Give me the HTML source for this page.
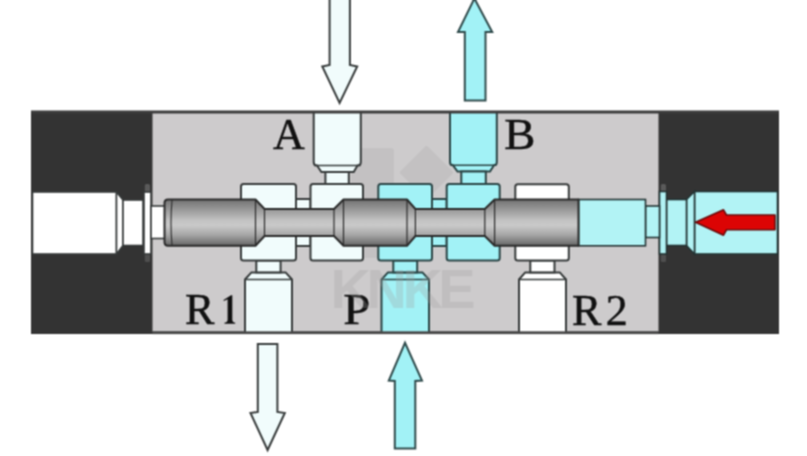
<!DOCTYPE html>
<html><head><meta charset="utf-8">
<style>
html,body{margin:0;padding:0;background:#fff;width:807px;height:456px;overflow:hidden}
svg{display:block}
</style></head>
<body>
<svg width="807" height="456" viewBox="0 0 807 456">
<defs>
<filter id="soft" filterUnits="userSpaceOnUse" x="0" y="0" width="807" height="456" color-interpolation-filters="sRGB"><feConvolveMatrix order="3" kernelMatrix="1 2 1 2 4 2 1 2 1" divisor="16" edgeMode="duplicate"/></filter>
<linearGradient id="spool" x1="0" y1="0" x2="0" y2="1">
<stop offset="0" stop-color="#727272"/>
<stop offset="0.15" stop-color="#8c8c8c"/>
<stop offset="0.45" stop-color="#c2c2c2"/>
<stop offset="0.56" stop-color="#c9c9c9"/>
<stop offset="0.75" stop-color="#a9a9a9"/>
<stop offset="1" stop-color="#666666"/>
</linearGradient>
<linearGradient id="shaft" x1="0" y1="0" x2="0" y2="1">
<stop offset="0" stop-color="#6e6e6e"/>
<stop offset="0.55" stop-color="#c8c8c8"/>
<stop offset="1" stop-color="#606060"/>
</linearGradient>
</defs>
<g filter="url(#soft)">
<rect x="0" y="0" width="807" height="456" fill="#fff"/>

<!-- arrows outside -->
<g stroke="#383c3c" stroke-width="2" stroke-linejoin="miter">
<path d="M329.6,-2 L349.9,-2 L349.9,65 L357.2,66.5 L339.6,103 L322.3,66.5 L329.6,65 Z" fill="#f1fcfc"/>
<path d="M464.8,100.5 L485.5,100.5 L485.5,32 L492.2,32 L474.4,-1.5 L458,32 L464.8,32 Z" fill="#a2f2f6" stroke="#2f4a4b"/>
<path d="M257.8,344 L277.4,344 L277.4,412 L284.8,413 L267.6,450 L250.5,413 L257.8,412 Z" fill="#f1fcfc"/>
<path d="M394.8,448.5 L415.3,448.5 L415.3,381 L422,380.5 L405,342.8 L388.8,380.5 L394.8,381 Z" fill="#a2f2f6" stroke="#2f4a4b"/>
</g>

<!-- body -->
<rect x="31" y="111" width="748" height="223" fill="#333"/>
<rect x="152.5" y="113" width="506" height="218.5" fill="#cdcbcc"/>

<!-- watermark -->
<g opacity="0.045" fill="#000">
<rect x="351" y="148" width="43" height="110" rx="3"/>
<path d="M426.5,148 L451,172.5 L426.5,197 L402,172.5 Z" stroke="#000" stroke-width="4" stroke-linejoin="round"/>
</g>

<!-- left end cap -->
<g stroke="#363a3a" stroke-width="1.6">
<rect x="144.8" y="184" width="5.2" height="8" rx="1.5" fill="#5a5a5a" stroke="none"/>
<rect x="144.8" y="254" width="5.2" height="8" rx="1.5" fill="#4f4f4f" stroke="none"/>
<rect x="32.5" y="192" width="84" height="62" fill="#fff"/>
<path d="M116.5,192 L123,200 L123,245.5 L116.5,254 Z" fill="#fff"/>
<rect x="123" y="200" width="20" height="45.5" fill="#fff"/>
<rect x="144" y="192" width="7" height="62" fill="#fff"/>
<rect x="151" y="206" width="14" height="32.5" fill="#fff"/>
</g>

<!-- right end cap -->
<g stroke="#223333" stroke-width="1.6">
<rect x="660.8" y="184" width="5.2" height="8" rx="1.5" fill="#5a5a5a" stroke="none"/>
<rect x="660.8" y="254" width="5.2" height="8" rx="1.5" fill="#4f4f4f" stroke="none"/>
<rect x="694.5" y="191.5" width="83" height="62.5" fill="#b2f3f5"/>
<path d="M694.5,191.5 L686.5,199.5 L686.5,245.5 L694.5,254 Z" fill="#b2f3f5"/>
<rect x="666.5" y="199.5" width="20" height="46" fill="#b2f3f5"/>
<rect x="659.5" y="191.5" width="7" height="62.5" fill="#b2f3f5"/>
<rect x="645.5" y="206" width="14" height="31.5" fill="#b2f3f5"/>
<rect x="578.5" y="199.5" width="67" height="46.3" fill="#b2f3f5"/>
</g>
<!-- red arrow -->
<path d="M695.5,222.3 L723.5,209.8 L726.5,215 L775,215 L775,229.8 L726.5,229.8 L723.5,235.2 Z" fill="#dc0404" stroke="#6a0a0a" stroke-width="1.6" stroke-linejoin="round"/>

<!-- ports -->
<g stroke="#363a3a" stroke-width="2">
<!-- A -->
<path d="M313.7,111 L313.7,162 Q313.7,165.5 317,165.5 L321.4,172 L353.7,172 L357.5,165.5 Q360.8,165.5 360.8,162 L360.8,111" fill="#f1fcfc"/>
<rect x="325.4" y="172" width="23.4" height="12" fill="#f1fcfc"/>
<!-- B -->
<path d="M450,111 L450,162 Q450,165.3 453,165.3 L457.5,171.5 L490,171.5 L494,165.3 Q496.8,165.3 496.8,162 L496.8,111" fill="#a2f2f6" stroke="#2a4445"/>
<rect x="461.3" y="171.5" width="24.5" height="12.5" fill="#a2f2f6" stroke="#2a4445"/>
<!-- R1 -->
<path d="M245,333 L245,279.5 L251.4,272.4 L285.6,272.4 L292,279.5 L292,333" fill="#f1fcfc"/>
<rect x="256.3" y="260.5" width="24.3" height="11.9" fill="#f1fcfc"/>
<!-- P -->
<path d="M381.5,333 L381.5,279.5 L388,272.4 L422.4,272.4 L429,279.5 L429,333" fill="#a2f2f6" stroke="#2a4445"/>
<rect x="393.3" y="260.5" width="23.9" height="11.9" fill="#a2f2f6" stroke="#2a4445"/>
<!-- R2 -->
<path d="M519,333 L519,279.5 L525.2,272.4 L559.8,272.4 L566,279.5 L566,333" fill="#fff"/>
<rect x="530.3" y="260.5" width="24.2" height="11.9" fill="#fff"/>
</g>

<rect x="31" y="110.5" width="748" height="3" fill="#3c3c3c"/>
<rect x="152.5" y="331.3" width="506" height="2.8" fill="#4a4a4a"/>
<g stroke="#363a3a" stroke-width="1.6">
<line x1="314" y1="165.5" x2="360.5" y2="165.5"/>
<line x1="450.5" y1="165.3" x2="496.3" y2="165.3" stroke="#2a4445"/>
<line x1="245.5" y1="279.5" x2="291.5" y2="279.5"/>
<line x1="382" y1="279.5" x2="428.5" y2="279.5" stroke="#2a4445"/>
<line x1="519.5" y1="279.5" x2="565.5" y2="279.5"/>
</g>
<!-- housing blocks -->
<g stroke="#363a3a" stroke-width="2">
<rect rx="2.5" x="241" y="184" width="55" height="38" fill="#f1fcfc"/>
<rect x="296" y="199" width="14.5" height="23" fill="#f1fcfc"/>
<rect rx="2.5" x="310.5" y="184" width="52.5" height="38" fill="#f1fcfc"/>
<rect rx="2.5" x="241" y="222" width="55" height="38.5" fill="#f1fcfc"/>
<rect x="296" y="222" width="14.5" height="24" fill="#f1fcfc"/>
<rect rx="2.5" x="310.5" y="222" width="52.5" height="38.5" fill="#f1fcfc"/>
<rect rx="2.5" x="515.3" y="184.3" width="53.5" height="38" fill="#fff"/>
<rect rx="2.5" x="515.3" y="222" width="53.5" height="38.5" fill="#fff"/>
</g>
<g stroke="#2a4445" stroke-width="2">
<rect rx="2.5" x="378.3" y="184" width="53.7" height="38" fill="#a2f2f6"/>
<rect x="432" y="199" width="14.7" height="23" fill="#a2f2f6"/>
<rect rx="2.5" x="446.7" y="184" width="53" height="38" fill="#a2f2f6"/>
<rect rx="2.5" x="378.3" y="222" width="53.7" height="38.5" fill="#a2f2f6"/>
<rect x="432" y="222" width="14.7" height="24" fill="#a2f2f6"/>
<rect rx="2.5" x="446.7" y="222" width="53" height="38.5" fill="#a2f2f6"/>
</g>


<!-- spool -->
<g stroke="#2a2a2a" stroke-width="2" stroke-linejoin="round">
<path d="M168,199.5 L255.5,199.5 L264.5,209 L334,209 L343.5,199.5 L407,199.5 L415.4,209 L484.8,209 L494.6,199.5 L578.5,199.5 L578.5,245.8 L494.6,245.8 L484.8,236 L415.4,236 L407,245.8 L343.5,245.8 L334,236 L264.5,236 L255.5,245.8 L168,245.8 Q164.5,245.8 164.5,242 L164.5,203 Q164.5,199.5 168,199.5 Z" fill="url(#spool)"/>
<path d="M172,200 Q170,222.6 172,245.3" fill="none" stroke-width="1.1"/>
<line x1="255.5" y1="199.5" x2="255.5" y2="245.8" stroke-width="1.2"/>
<line x1="343.5" y1="199.5" x2="343.5" y2="245.8" stroke-width="1.2"/>
<line x1="407" y1="199.5" x2="407" y2="245.8" stroke-width="1.2"/>
<line x1="494.6" y1="199.5" x2="494.6" y2="245.8" stroke-width="1.2"/>
<line x1="264.5" y1="209" x2="264.5" y2="236" stroke-width="1.2"/>
<line x1="334" y1="209" x2="334" y2="236" stroke-width="1.2"/>
<line x1="415.4" y1="209" x2="415.4" y2="236" stroke-width="1.2"/>
<line x1="484.8" y1="209" x2="484.8" y2="236" stroke-width="1.2"/>
</g>

<!-- labels -->
<g font-family="'Liberation Serif', serif" font-size="44" fill="#111" stroke="#111" stroke-width="0.5">
<text x="273" y="149">A</text>
<text transform="translate(504.3,149) scale(1.06,1)" x="0" y="0">B</text>
<text x="185" y="324">R</text>
<path d="M227.6,299.2 L223.8,301 L223.5,300.1 L231,295.2 L232.3,295.2 L232.3,320.3 Q232.5,322.5 235.2,322.7 L235.2,323.8 L224.5,323.8 L224.5,322.7 Q227.4,322.5 227.6,320.3 Z" stroke="none"/>
<text transform="translate(343.3,324) scale(1.1,1)" x="0" y="0">P</text>
<text x="572" y="324.5">R<tspan dx="4.5">2</tspan></text>
</g>

<!-- watermark text -->
<text x="330.5" y="307.5" font-family="'Liberation Sans', sans-serif" font-weight="bold" font-size="56" fill="#a0a0a0" opacity="0.28" letter-spacing="-4.5">KNKE</text>
</g>
</svg>
</body></html>
